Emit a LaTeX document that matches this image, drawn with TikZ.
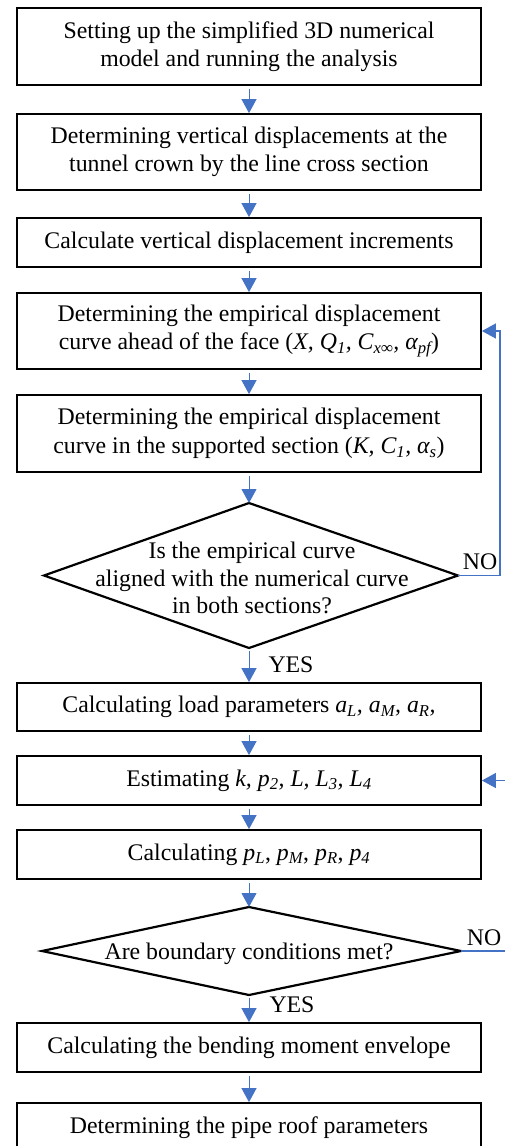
\documentclass[tikz,border=0pt]{standalone}
\usepackage{fontspec}
\setmainfont{Liberation Serif}
\usetikzlibrary{arrows.meta}
\definecolor{arrblue}{HTML}{4472C4}
\newcommand\sbs[1]{\textsubscript{#1}}
\begin{document}
\begin{tikzpicture}[x=1pt,y=-1pt,
  font=\fontsize{23.8}{28.5}\selectfont,
  box/.style={draw, line width=1.8pt, minimum width=464pt, align=center, inner sep=0pt},
  dia/.style={draw, line width=2.2pt, line join=miter},
  arr/.style={draw=arrblue, line width=1pt, shorten <=3pt, -{Triangle[length=14pt,width=15pt]}},
  back/.style={draw=arrblue, line width=1.2pt, -{Triangle[length=14pt,width=15pt]}},
  lbl/.style={inner sep=0pt}]
\useasboundingbox (0,0) rectangle (504,1146);
\node[box, minimum height=77pt] (b1) at (249,46.5) {Setting up the simplified 3D numerical\\model and running the analysis};
\node[box, minimum height=76pt] (b2) at (249,152) {Determining vertical displacements at the\\tunnel crown by the line cross section};
\node[box, minimum height=49pt] (b3) at (249,242.5) {Calculate vertical displacement increments};
\node[box, minimum height=76pt] (b4) at (249,331) {Determining the empirical displacement\\curve ahead of the face (\textit{X, Q\sbs{1}, C\sbs{x∞}, α\sbs{pf}})};
\node[box, minimum height=77pt] (b5) at (249,433.5) {Determining the empirical displacement\\curve in the supported section (\textit{K, C\sbs{1}, α\sbs{s}})};
\coordinate (d1t) at (249,503);
\coordinate (d1b) at (249,648);
\coordinate (d1l) at (44,575.5);
\coordinate (d1r) at (458,575.5);
\draw[dia] (d1t) -- (d1r) -- (d1b) -- (d1l) -- cycle;
\node[align=center, inner sep=0pt, font=\fontsize{23.8}{27.5}\selectfont] (d1) at (252,578) {Is the empirical curve\\aligned with the numerical curve\\in both sections?};
\node[box, minimum height=48pt] (b6) at (249,707) {Calculating load parameters \textit{a\sbs{L}, a\sbs{M}, a\sbs{R},}};
\node[box, minimum height=49pt] (b7) at (249,780.5) {Estimating \textit{k, p\sbs{2}, L, L\sbs{3}, L\sbs{4}}};
\node[box, minimum height=49pt] (b8) at (249,854.5) {Calculating \textit{p\sbs{L}}, \textit{p\sbs{M}}, \textit{p\sbs{R}}, \textit{p\sbs{4}}};
\coordinate (d2t) at (249,907);
\coordinate (d2b) at (249,995);
\coordinate (d2l) at (42,951);
\coordinate (d2r) at (461,951);
\draw[dia] (d2t) -- (d2r) -- (d2b) -- (d2l) -- cycle;
\node[inner sep=0pt] (d2) at (249,954) {Are boundary conditions met?};
\node[box, minimum height=49pt] (b9) at (249,1047.5) {Calculating the bending moment envelope};
\node[box, minimum height=50pt] (b10) at (249,1128) {Determining the pipe roof parameters};
\draw[arr] (b1) -- (b2);
\draw[arr] (b2) -- (b3);
\draw[arr] (b3) -- (b4);
\draw[arr] (b4) -- (b5);
\draw[arr] (b5) -- (d1t);
\draw[arr] (d1b) -- (b6);
\draw[arr] (b6) -- (b7);
\draw[arr] (b7) -- (b8);
\draw[arr] (b8) -- (d2t);
\draw[arr] (d2b) -- (b9);
\draw[arr] (b9) -- (b10);
\coordinate (c1) at (500,575.5);
\coordinate (c2) at (506,951);
\draw[back] (d1r) -- (c1) |- (b4.east);
\draw[back] (d2r) -- (c2) |- (b7.east);
\node[lbl] (no1) at (480,562) {NO};
\node[lbl] (no2) at (484,938) {NO};
\node[lbl] (yes1) at (291,665) {YES};
\node[lbl] (yes2) at (292,1005) {YES};
\end{tikzpicture}
\end{document}
